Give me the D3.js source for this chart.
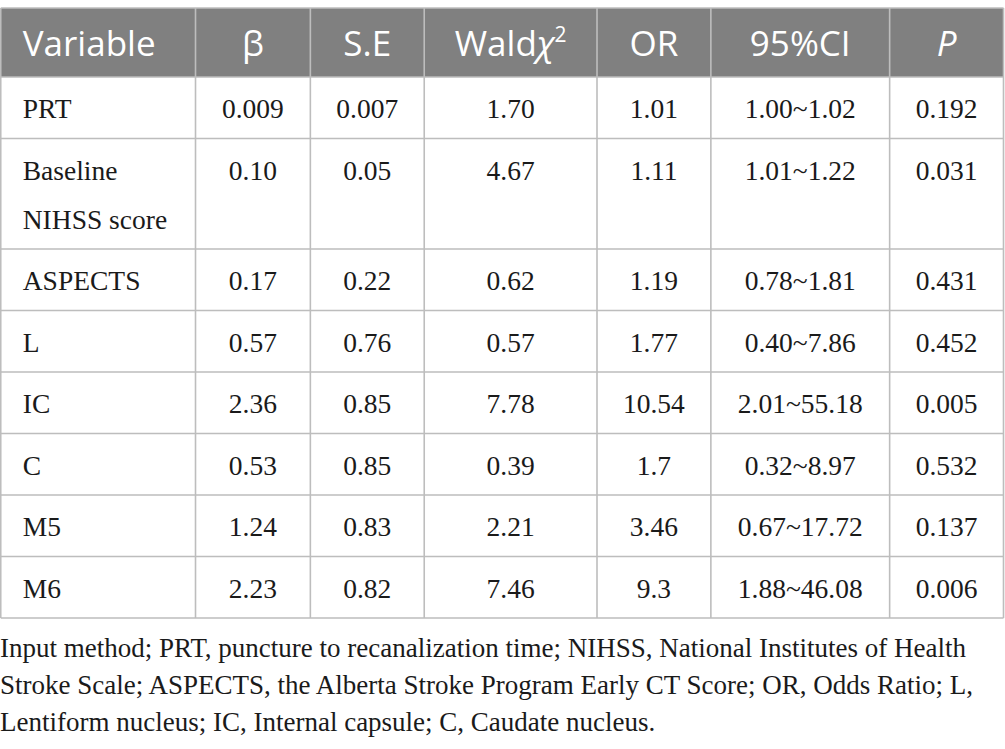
<!DOCTYPE html>
<html lang="en">
  <head>
    <meta charset="UTF-8" />
    <title>Logistic regression table</title>
    <script src="https://d3js.org/d3.v7.min.js"></script>
    <style>
      body {
        margin: 0;
        background: #fff;
      }
      .head text {
        font-family: "Open Sans", sans-serif;
        font-size: 35px;
        fill: #fff;
      }
      .cell {
        font-family: "Liberation Serif", "Times New Roman", serif;
        font-size: 27.5px;
        fill: #1a1a1a;
      }
      .note {
        font-family: "Liberation Serif", "Times New Roman", serif;
        font-size: 27px;
        fill: #1a1a1a;
      }
    </style>
  </head>
  <body>
    <div id="chart"></div>
    <script>
      // table content
      const headers = ["Variable", "β", "S.E", "Wald", "OR", "95%CI", "P"];
      const variables = [
        ["PRT"],
        ["Baseline", "NIHSS score"],
        ["ASPECTS"],
        ["L"],
        ["IC"],
        ["C"],
        ["M5"],
        ["M6"],
      ];
      const betaVals = ["0.009", "0.10", "0.17", "0.57", "2.36", "0.53", "1.24", "2.23"];
      const seVals = ["0.007", "0.05", "0.22", "0.76", "0.85", "0.85", "0.83", "0.82"];
      const waldVals = ["1.70", "4.67", "0.62", "0.57", "7.78", "0.39", "2.21", "7.46"];
      const orVals = ["1.01", "1.11", "1.19", "1.77", "10.54", "1.7", "3.46", "9.3"];
      const ciVals = [
        "1.00~1.02", "1.01~1.22", "0.78~1.81", "0.40~7.86",
        "2.01~55.18", "0.32~8.97", "0.67~17.72", "1.88~46.08",
      ];
      const pVals = ["0.192", "0.031", "0.431", "0.452", "0.005", "0.532", "0.137", "0.006"];
      const footnote = [
        "Input method; PRT, puncture to recanalization time; NIHSS, National Institutes of Health",
        "Stroke Scale; ASPECTS, the Alberta Stroke Program Early CT Score; OR, Odds Ratio; L,",
        "Lentiform nucleus; IC, Internal capsule; C, Caudate nucleus.",
      ];

      const width = 1005,
        height = 749;
      const tableTop = 8,
        headH = 69,
        rowH = 61.5,
        lineH = 49;
      // relative column widths
      const colW = [195, 115, 114, 173, 114, 179, 114];

      const svg = d3
        .select("#chart")
        .append("svg")
        .attr("width", width)
        .attr("height", height);

      // columns: cumulative widths mapped onto pixels
      const edges = Array.from(d3.cumsum([0].concat(colW)));
      const x = d3.scaleLinear().domain([0, d3.sum(colW)]).range([0.75, 1003.5]);

      // rows: cumulative heights
      const rowHeights = variables.map((v) => rowH + (v.length - 1) * lineH);
      const rowEdges = Array.from(d3.cumsum([0].concat(rowHeights)));
      const y = d3
        .scaleLinear()
        .domain([0, d3.sum(rowHeights)])
        .range([tableTop + headH, tableTop + headH + d3.sum(rowHeights)]);

      const rows = variables.map((v, i) => ({
        cells: [v, [betaVals[i]], [seVals[i]], [waldVals[i]], [orVals[i]], [ciVals[i]], [pVals[i]]],
        y0: y(rowEdges[i]),
        y1: y(rowEdges[i + 1]),
      }));

      // header band
      svg
        .append("rect")
        .attr("x", x(0))
        .attr("y", tableTop)
        .attr("width", x(d3.sum(colW)) - x(0))
        .attr("height", headH)
        .attr("fill", "#808080");

      // header labels
      const head = svg.append("g").attr("class", "head");
      headers.forEach((h, j) => {
        const cx = j === 0 ? x(edges[0]) + 22 : (x(edges[j]) + x(edges[j + 1])) / 2;
        const t = head
          .append("text")
          .attr("x", cx)
          .attr("y", tableTop + 48)
          .attr("text-anchor", j === 0 ? "start" : "middle");
        if (h === "Wald") {
          t.append("tspan").text("Wald");
          t.append("tspan").attr("font-style", "italic").text("χ");
          t.append("tspan").attr("dy", -14).attr("font-size", 21).text("2");
        } else if (h === "P") {
          t.attr("font-style", "italic").text(h);
        } else {
          t.text(h);
        }
      });

      // body cells
      const body = svg.append("g");
      rows.forEach((r) => {
        r.cells.forEach((lines, j) => {
          const cx = j === 0 ? x(edges[0]) + 22 : (x(edges[j]) + x(edges[j + 1])) / 2;
          body
            .selectAll(null)
            .data(lines)
            .join("text")
            .attr("class", "cell")
            .attr("x", cx)
            .attr("y", (d, k) => r.y0 + 41 + k * lineH)
            .attr("text-anchor", j === 0 ? "start" : "middle")
            .text((d) => d);
        });
      });

      // grid lines
      const grid = svg
        .append("g")
        .attr("stroke", "#bdbdbd")
        .attr("stroke-width", 1.6)
        .attr("fill", "none");
      const yEnd = y(d3.sum(rowHeights));
      // horizontal
      grid
        .selectAll(".h")
        .data([tableTop, rows[0].y0].concat(rows.map((r) => r.y1)))
        .join("line")
        .attr("x1", x(0))
        .attr("x2", x(d3.sum(colW)))
        .attr("y1", (d) => d)
        .attr("y2", (d) => d);
      // vertical
      grid
        .selectAll(".v")
        .data(edges)
        .join("line")
        .attr("x1", (d) => x(d))
        .attr("x2", (d) => x(d))
        .attr("y1", tableTop)
        .attr("y2", yEnd);

      // footnote
      svg
        .append("g")
        .selectAll("text")
        .data(footnote)
        .join("text")
        .attr("class", "note")
        .attr("x", 0)
        .attr("y", (d, i) => yEnd + 39 + i * 37)
        .text((d) => d);
    </script>
  </body>
</html>
